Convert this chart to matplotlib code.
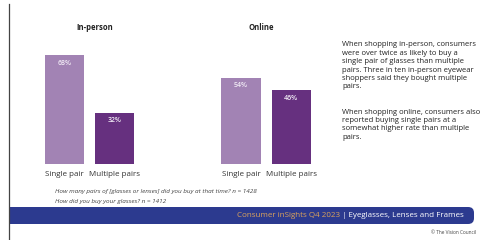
import matplotlib
matplotlib.use("Agg")
import matplotlib.pyplot as plt
from matplotlib.patches import FancyBboxPatch, Rectangle
from matplotlib.lines import Line2D

plt.rcParams['font.family'] = ['Open Sans', 'DejaVu Sans']

categories = ["Single pair", "Multiple pairs"]
in_person = [68, 32]
online = [54, 46]
value_labels_in = ["68%", "32%"]
value_labels_on = ["54%", "46%"]
panel_titles = ["In-person", "Online"]
bar_colors = ["#a283b4", "#66307f"]

paragraph1 = ["When shopping in-person, consumers",
              "were over twice as likely to buy a",
              "single pair of glasses than multiple",
              "pairs. Three in ten in-person eyewear",
              "shoppers said they bought multiple",
              "pairs."]
paragraph2 = ["When shopping online, consumers also",
              "reported buying single pairs at a",
              "somewhat higher rate than multiple",
              "pairs."]
footnotes = ["How many pairs of [glasses or lenses] did you buy at that time? n = 1428",
             "How did you buy your glasses? n = 1412"]
banner_a = "Consumer inSights Q4 2023"
banner_b = " | Eyeglasses, Lenses and Frames"
credit = "© The Vision Council"

W, H = 485, 240
fig = plt.figure(figsize=(W / 100, H / 100), dpi=100)
fig.patch.set_facecolor("white")

def fx(px):
    return px / W

def fy(py):
    return 1 - py / H

def panel(left_px, values, labels, title, title_x):
    ax = fig.add_axes([fx(left_px), fy(164), 120 / W, 160 / H])
    x = list(range(len(values)))
    bars = ax.bar(x, values, width=0.78, color=bar_colors)
    ax.set_xlim(-0.7, 1.7)
    ax.set_ylim(0, 100)
    for b, lab in zip(bars, labels):
        ax.annotate(lab, (b.get_x() + b.get_width() / 2, b.get_height()),
                    xytext=(0, -8), textcoords="offset pixels",
                    ha="center", va="center", color="#f1ebf5",
                    fontsize=5.0, fontweight="semibold")
    ax.set_xticks(x)
    ax.set_xticklabels(categories, fontsize=5.8, color="#333333")
    ax.tick_params(axis="x", length=0, pad=5)
    ax.set_yticks([])
    for s in ax.spines.values():
        s.set_visible(False)
    ax.patch.set_alpha(0)
    fig.text(fx(title_x), fy(28), title, ha="center", va="center",
             fontsize=5.5, fontweight="bold", color="#222222")
    return ax

panel(29.5, in_person, value_labels_in, panel_titles[0], 95)
panel(206, online, value_labels_on, panel_titles[1], 261)

# left vertical rule
fig.add_artist(Line2D([fx(9), fx(9)], [fy(4), fy(240)], color="#444444", lw=0.9))

# right paragraphs
for i, line in enumerate(paragraph1):
    fig.text(fx(342), fy(45 + 8.4 * i), line, ha="left", va="center",
             fontsize=5.5, color="#222222")
for i, line in enumerate(paragraph2):
    fig.text(fx(342), fy(112 + 8.4 * i), line, ha="left", va="center",
             fontsize=5.5, color="#222222")

# footnotes
for i, line in enumerate(footnotes):
    fig.text(fx(55), fy(192 + 9 * i), line, ha="left", va="center",
             fontsize=4.6, style="italic", color="#444444")

# banner
fig.add_artist(Rectangle((fx(9), fy(224)), fx(440), (224 - 207) / H,
                         facecolor="#2c3a8f", edgecolor="none"))
fig.add_artist(FancyBboxPatch((fx(430), fy(224)), fx(44), (224 - 207) / H,
                              boxstyle="round,pad=0,rounding_size=0.012",
                              facecolor="#2c3a8f", edgecolor="none",
                              mutation_aspect=W / H))
tb = fig.text(fx(464), fy(215.5), banner_b, ha="right", va="center",
              fontsize=5.8, color="white")
fig.canvas.draw()
bb = tb.get_window_extent()
fig.text(bb.x0 / W, fy(215.5), banner_a, ha="right", va="center",
         fontsize=5.8, color="#dba35c")

fig.text(fx(476), fy(232), credit, ha="right", va="center",
         fontsize=3.4, color="#444444")

fig.savefig("out.png", dpi=100)
